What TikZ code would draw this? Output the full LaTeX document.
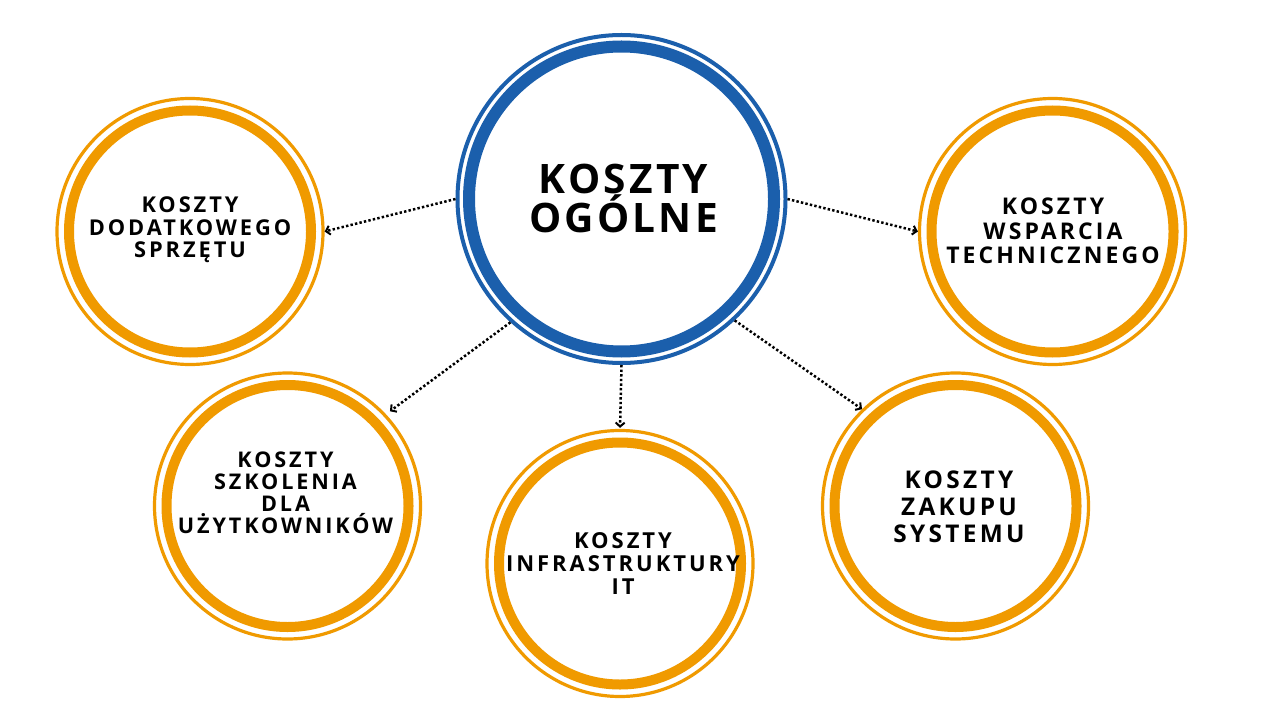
\documentclass[tikz,border=0pt]{standalone}
\usepackage{fontspec}
\usetikzlibrary{arrows.meta}
\newfontfamily\labfont{Open Sans}[LetterSpace=13.5]
\newfontfamily\hubfont{Open Sans}[LetterSpace=8]
\definecolor{hubblue}{RGB}{27,95,172}
\definecolor{ringorange}{RGB}{240,154,0}
\tikzset{
  hub/.style={circle, draw=hubblue, line width=4pt, minimum size=328pt, inner sep=0pt},
  hubinner/.style={draw=hubblue, line width=12pt},
  leaf/.style={circle, draw=ringorange, line width=3.2pt, minimum size=266pt, inner sep=0pt},
  leafinner/.style={draw=ringorange, line width=10pt},
  lab/.style={align=center, inner sep=0pt, text depth=0pt, text=black},
  conn/.style={line width=2.5pt, dash pattern=on 2.4pt off 2.2pt, -{Straight Barb[length=4pt,width=9pt,line width=2pt]}}
}
\begin{document}
\begin{tikzpicture}[x=1pt,y=-1pt]
\useasboundingbox (0,0) rectangle (1265,711);
\fill[white] (0,0) rectangle (1265,711);
% circles
\node[hub] (c) at (621.5,199) {};
\draw[hubinner] (c.center) circle[radius=152.5pt];
\node[leaf] (lt) at (190,231.5) {};
\draw[leafinner] (lt.center) circle[radius=121pt];
\node[leaf] (rt) at (1052.5,231.5) {};
\draw[leafinner] (rt.center) circle[radius=121pt];
\node[leaf] (bl) at (287.5,506) {};
\draw[leafinner] (bl.center) circle[radius=121pt];
\node[leaf] (bm) at (620,563.5) {};
\draw[leafinner] (bm.center) circle[radius=121pt];
\node[leaf] (br) at (955.5,506) {};
\draw[leafinner] (br.center) circle[radius=121pt];
% labels
\node[lab, font={\hubfont\bfseries\fontsize{40.6}{38}\selectfont}] (tc) at (623.5,198.5) {KOSZTY\\OGÓLNE};
\node[lab, font={\labfont\bfseries\fontsize{21.8}{22.5}\selectfont}] (tlt) at (190,227.5) {KOSZTY\\DODATKOWEGO\\SPRZĘTU};
\node[lab, font={\labfont\bfseries\fontsize{23}{24.5}\selectfont}] (trt) at (1053,231) {KOSZTY\\WSPARCIA\\TECHNICZNEGO};
\node[lab, font={\labfont\bfseries\fontsize{21.6}{22}\selectfont}] (tbl) at (285.5,492.5) {KOSZTY\\SZKOLENIA\\DLA\\UŻYTKOWNIKÓW};
\node[lab, font={\labfont\bfseries\fontsize{22}{23}\selectfont}] (tbm) at (623,563.5) {KOSZTY\\INFRASTRUKTURY\\IT};
\node[lab, font={\labfont\bfseries\fontsize{24.4}{27}\selectfont}] (tbr) at (959,506.5) {KOSZTY\\ZAKUPU\\SYSTEMU};
% connectors
\draw[conn] (c.180) -- (lt.0);
\draw[conn] (c.0) -- (rt.180);
\draw[conn, shorten >=5pt] (c.228) -- (bl.43);
\draw[conn, shorten >=1pt] (c.270) -- (bm.90);
\draw[conn] (c.313) -- (br.134);
\end{tikzpicture}
\end{document}
